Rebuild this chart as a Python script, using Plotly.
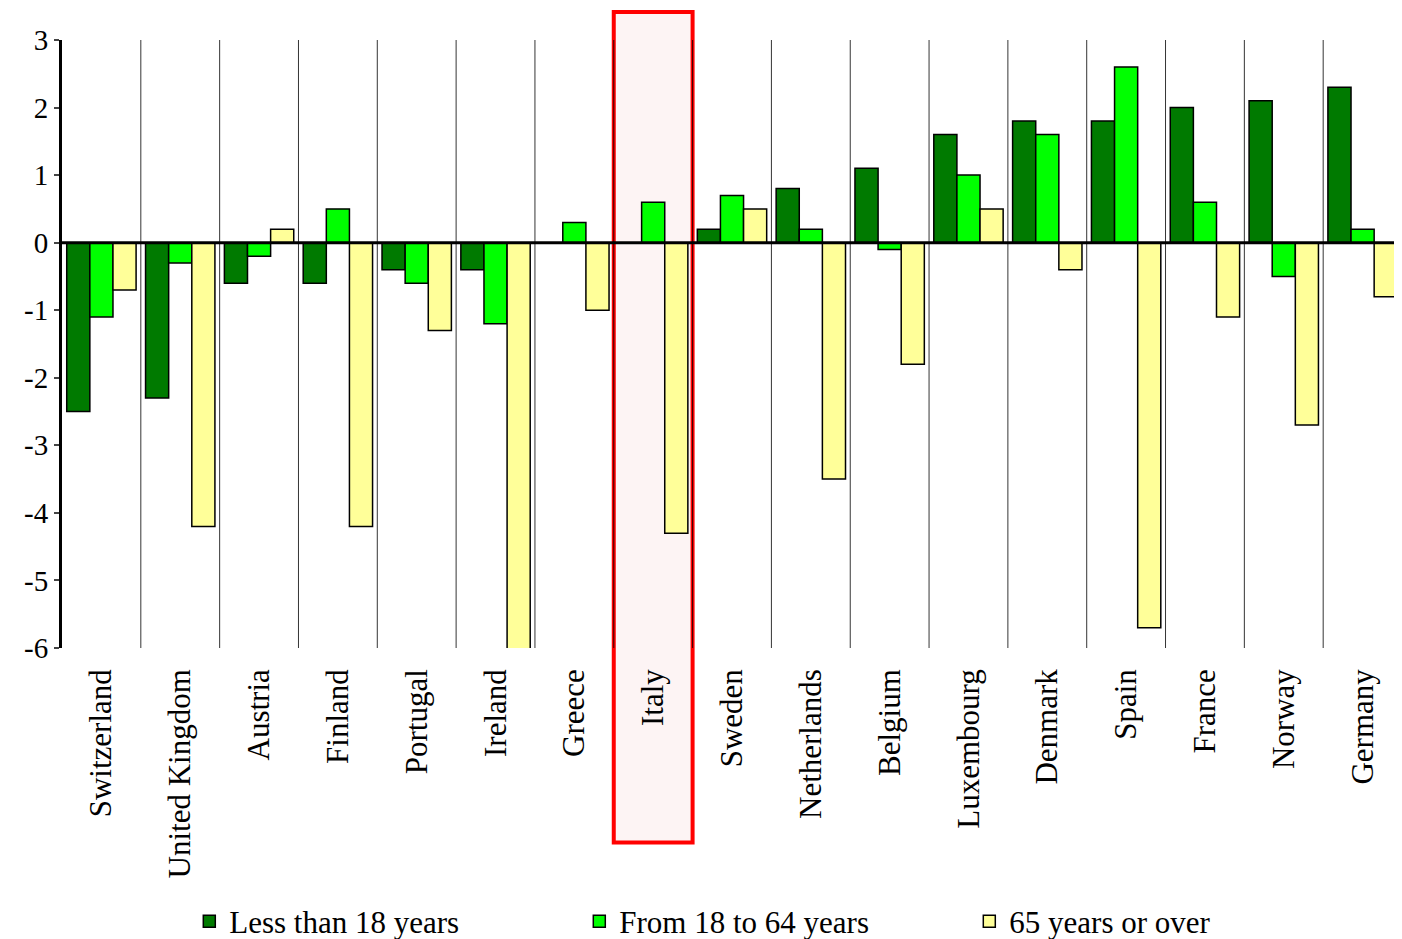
import plotly.graph_objects as go

countries = ["Switzerland", "United Kingdom", "Austria", "Finland", "Portugal", "Ireland",
             "Greece", "Italy", "Sweden", "Netherlands", "Belgium", "Luxembourg",
             "Denmark", "Spain", "France", "Norway", "Germany"]
under18 = [-2.5, -2.3, -0.6, -0.6, -0.4, -0.4, 0.0, 0.0, 0.2, 0.8, 1.1, 1.6, 1.8, 1.8, 2.0, 2.1, 2.3]
age18_64 = [-1.1, -0.3, -0.2, 0.5, -0.6, -1.2, 0.3, 0.6, 0.7, 0.2, -0.1, 1.0, 1.6, 2.6, 0.6, -0.5, 0.2]
over65 = [-0.7, -4.2, 0.2, -4.2, -1.3, -6.08, -1.0, -4.3, 0.5, -3.5, -1.8, 0.5, -0.4, -5.7, -1.1, -2.7, -0.8]
y_ticks = [3, 2, 1, 0, -1, -2, -3, -4, -5, -6]

series = [("Less than 18 years", under18, "#007a00"),
          ("From 18 to 64 years", age18_64, "#00ff00"),
          ("65 years or over", over65, "#ffff99")]

font = "Liberation Serif"
fig = go.Figure()
for name, vals, col in series:
    fig.add_trace(go.Bar(x=countries, y=vals, name=name, cliponaxis=False,
                         marker=dict(color=col, line=dict(color="black", width=1.5))))

shapes = [dict(type="rect", xref="x", yref="paper", x0=6.5, x1=7.5, y0=-0.32, y1=1.046,
               fillcolor="#fdf4f4", line=dict(color="#ff0000", width=4), layer="below")]
for i in range(len(countries) - 1):
    shapes.append(dict(type="line", xref="x", yref="y", x0=i + 0.5, x1=i + 0.5, y0=-6, y1=3,
                       line=dict(color="black", width=0.8), layer="below"))
shapes.append(dict(type="line", xref="paper", yref="y", x0=0, x1=1, y0=0, y1=0,
                   line=dict(color="black", width=3)))

fig.update_layout(
    width=1394, height=931, plot_bgcolor="white", paper_bgcolor="white",
    margin=dict(l=54, r=0, t=32, b=291, autoexpand=False),
    barmode="group", bargap=0.12, bargroupgap=0,
    font=dict(family=font, size=31, color="black"),
    shapes=shapes,
    legend=dict(orientation="h", x=0.095, y=-0.45, xanchor="left", yanchor="middle",
                entrywidth=345, itemwidth=30, font=dict(size=31)),
)
fig.update_xaxes(tickangle=-90, showgrid=False, ticks="", range=[-0.5, 16.5], automargin=False,
                 ticklabelstandoff=14)
fig.update_yaxes(range=[-6, 3], tickvals=y_ticks, ticktext=[str(v) for v in y_ticks],
                 showgrid=False, zeroline=False, showline=True, automargin=False,
                 linecolor="black", linewidth=3, ticks="outside", ticklen=5, tickwidth=2,
                 tickfont=dict(size=29))

fig.write_html("out.html")
